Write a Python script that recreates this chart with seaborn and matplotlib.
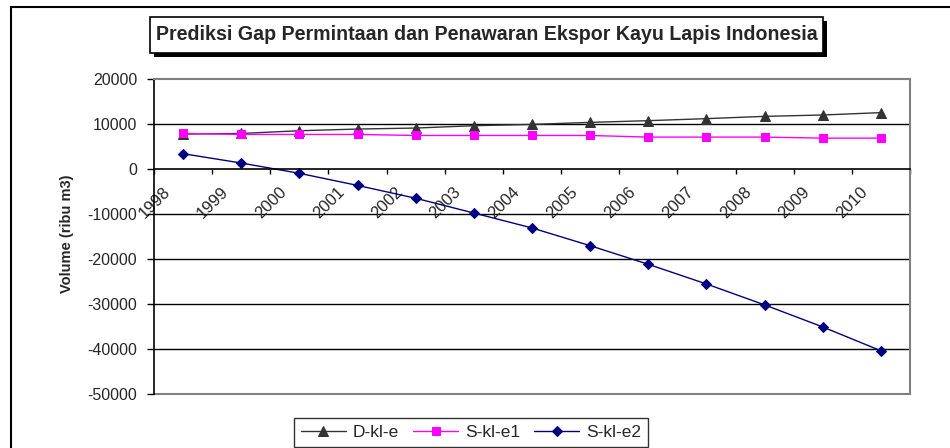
import matplotlib
matplotlib.use("Agg")
import matplotlib.pyplot as plt
import matplotlib.transforms as mtransforms
from matplotlib.patches import Rectangle
import numpy as np
import pandas as pd
import seaborn as sns

years = ["1998", "1999", "2000", "2001", "2002", "2003", "2004",
         "2005", "2006", "2007", "2008", "2009", "2010"]
d_kl_e = [7760, 7900, 8500, 8880, 9100, 9620, 9910, 10360, 10740, 11190, 11700, 12000, 12530]
s_kl_e1 = [7900, 7680, 7680, 7680, 7450, 7450, 7450, 7450, 7090, 7090, 7090, 6860, 6860]
s_kl_e2 = [3400, 1330, -960, -3650, -6500, -9780, -13100, -17040, -21180, -25550, -30200, -35100, -40400]
series_names = ["D-kl-e", "S-kl-e1", "S-kl-e2"]
title = "Prediksi Gap Permintaan dan Penawaran Ekspor Kayu Lapis Indonesia"
ylabel = "Volume (ribu m3)"

sns.set_theme(style="white")
plt.rcParams["font.family"] = ["Liberation Sans", "DejaVu Sans"]

df = pd.DataFrame({"pos": np.arange(len(years)), "D-kl-e": d_kl_e,
                   "S-kl-e1": s_kl_e1, "S-kl-e2": s_kl_e2})

fig = plt.figure(figsize=(9.5, 4.48), dpi=100)
W, H = 950.0, 448.0
ax = fig.add_axes([154 / W, 1 - 394 / H, (910 - 154) / W, (394 - 79) / H])

styles = {
    "D-kl-e": dict(color="#333333", marker="^", markersize=7.5),
    "S-kl-e1": dict(color="#FF00FF", marker="s", markersize=6),
    "S-kl-e2": dict(color="#000080", marker="D", markersize=5),
}
for name in series_names:
    st = styles[name]
    sns.lineplot(data=df, x="pos", y=name, ax=ax, color=st["color"], marker=st["marker"],
                 markersize=st["markersize"], markeredgecolor=st["color"],
                 linewidth=1.0, label=name, legend=False)

ax.set_xlim(-0.5, len(years) - 0.5)
ax.set_ylim(-50000, 20000)
ax.set_yticks(np.arange(-50000, 20001, 10000))
ax.set_yticklabels([str(v) for v in range(-50000, 20001, 10000)])
ax.tick_params(axis="y", which="major", direction="out", length=5, width=1,
               color="black", labelsize=11.5, pad=7, left=True)

for y in [-40000, -30000, -20000, -10000, 10000]:
    ax.axhline(y, color="black", linewidth=1.0, zorder=0.5)
ax.axhline(-50000, color="#808080", linewidth=1.5, zorder=0.5, clip_on=False)

for s in ["top", "right"]:
    ax.spines[s].set_color("#808080")
    ax.spines[s].set_linewidth(1.5)
ax.spines["left"].set_color("black")
ax.spines["left"].set_linewidth(1.2)
ax.spines["bottom"].set_position(("data", 0))
ax.spines["bottom"].set_color("black")
ax.spines["bottom"].set_linewidth(1.2)

ax.set_xticks(np.arange(len(years)))
ax.set_xticklabels(years, rotation=45, ha="right", va="top", fontsize=12)
ax.set_xticks(np.arange(-0.5, len(years), 1.0), minor=True)
ax.tick_params(axis="x", which="major", length=0, pad=11, bottom=True)
ax.tick_params(axis="x", which="minor", direction="out", length=3.5, width=1,
               color="black", bottom=True)
offset = mtransforms.ScaledTranslation(-10 / 100, 0, fig.dpi_scale_trans)
for lab in ax.get_xticklabels():
    lab.set_transform(lab.get_transform() + offset)

ax.set_xlabel("")
ax.set_ylabel("")
fig.text(67 / W, 1 - 234 / H, ylabel, rotation=90, ha="center", va="center",
         fontsize=10.5, fontweight="bold",
         family=["Liberation Sans Narrow", "Liberation Sans", "DejaVu Sans"])

# outer frame
fig.patches.append(Rectangle((11 / W, -0.05), 1.1, 1 - 7 / H + 0.05,
                             transform=fig.transFigure, fill=False,
                             edgecolor="black", linewidth=1.5, clip_on=False))
# title box with shadow
tx0, ty0, tx1, ty1 = 150, 17, 823, 53
fig.patches.append(Rectangle(((tx0 + 4) / W, 1 - (ty1 + 4) / H), (tx1 - tx0) / W, (ty1 - ty0) / H,
                             transform=fig.transFigure, facecolor="black",
                             edgecolor="black", linewidth=0))
fig.patches.append(Rectangle((tx0 / W, 1 - ty1 / H), (tx1 - tx0) / W, (ty1 - ty0) / H,
                             transform=fig.transFigure, facecolor="white",
                             edgecolor="black", linewidth=1.2))
fig.text((tx0 + tx1) / 2 / W, 1 - (ty0 + ty1) / 2 / H, title, ha="center", va="center",
         fontsize=14.1, fontweight="bold")

handles, labels = ax.get_legend_handles_labels()
leg = fig.legend(handles, labels, loc="upper center", bbox_to_anchor=(471 / W, 1 - 418 / H),
                 ncol=3, fontsize=12.5, frameon=True, fancybox=False, edgecolor="black",
                 handlelength=2.6, handletextpad=0.4, columnspacing=0.8,
                 borderpad=0.4, borderaxespad=0)
leg.get_frame().set_linewidth(1.0)

fig.savefig("out.png", dpi=100)
